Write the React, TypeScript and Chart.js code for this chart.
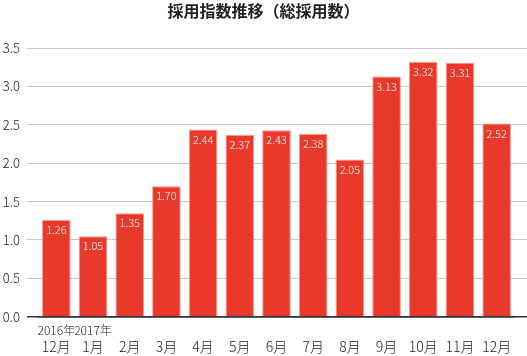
import React, { useEffect, useRef } from "react";
import { Chart, registerables } from "chart.js";

Chart.register(...registerables);

const TITLE = "採用指数推移（総採用数）";
const YEAR_LABELS = ["2016年", "2017年", "", "", "", "", "", "", "", "", "", "", ""];
const MONTH_LABELS = ["12月", "1月", "2月", "3月", "4月", "5月", "6月", "7月", "8月", "9月", "10月", "11月", "12月"];
const VALUES = [1.26, 1.05, 1.35, 1.7, 2.44, 2.37, 2.43, 2.38, 2.05, 3.13, 3.32, 3.31, 2.52];
const Y_MIN = 0;
const Y_MAX = 3.5;
const Y_STEP = 0.5;

const FONT = '"Noto Sans CJK JP", "Noto Sans", sans-serif';
const BAR_COLOR = "#e8392b";
const BAR_EDGE = "#f49a8f";
const GRID = "#c8c8c8";
const AXIS = "#333333";
const TEXT = "#222222";

const valueLabels = {
  id: "valueLabels",
  afterDatasetsDraw(chart: any) {
    const ctx = chart.ctx;
    const meta = chart.getDatasetMeta(0);
    ctx.save();
    ctx.fillStyle = "#ffffff";
    ctx.font = `300 11px ${FONT}`;
    ctx.textAlign = "center";
    ctx.textBaseline = "middle";
    meta.data.forEach((el: any, i: number) => {
      const v = chart.data.datasets[0].data[i] as number;
      ctx.fillText(v.toFixed(2), el.x, el.y + 10);
    });
    ctx.restore();
  },
};

export default function App() {
  const ref = useRef<HTMLCanvasElement | null>(null);
  useEffect(() => {
    if (!ref.current) return;
    const lineColor = (c: any) => (c.tick && c.tick.value === 0 ? AXIS : GRID);
    const lineWidth = (c: any) => (c.tick && c.tick.value === 0 ? 1.5 : 1);
    const chart = new Chart(ref.current, {
      type: "bar",
      data: {
        labels: MONTH_LABELS,
        datasets: [
          {
            data: VALUES,
            backgroundColor: BAR_COLOR,
            borderColor: BAR_EDGE,
            borderWidth: 1,
            categoryPercentage: 1,
            barPercentage: 0.78,
            xAxisID: "x",
            yAxisID: "y",
          },
        ],
      },
      options: {
        responsive: false,
        animation: false,
        layout: { padding: 0 },
        plugins: {
          legend: { display: false },
          tooltip: { enabled: false },
          title: {
            display: true,
            text: TITLE,
            color: TEXT,
            font: { family: FONT, size: 16, weight: "bold", lineHeight: 1.2 },
            padding: { top: 1, bottom: 28 },
          },
        },
        scales: {
          xYear: {
            type: "category",
            position: "bottom",
            labels: YEAR_LABELS,
            weight: 0,
            grid: { display: false, drawTicks: false },
            border: { display: true, color: AXIS, width: 1.5 },
            ticks: {
              autoSkip: false,
              maxRotation: 0,
              color: TEXT,
              padding: 7,
              font: { family: FONT, size: 12, weight: "300", lineHeight: 1.2 },
            },
            afterFit: (s: any) => {
              s.height = 21;
            },
          },
          x: {
            type: "category",
            position: "bottom",
            weight: 1,
            grid: { display: false, drawTicks: false },
            border: { display: false },
            ticks: {
              autoSkip: false,
              maxRotation: 0,
              color: TEXT,
              padding: 1,
              font: { family: FONT, size: 14, weight: "300", lineHeight: 1.2 },
            },
            afterFit: (s: any) => {
              s.height = 18.3;
            },
          },
          y: {
            position: "left",
            min: Y_MIN,
            max: Y_MAX,
            border: { display: false },
            grid: {
              color: lineColor,
              tickColor: lineColor,
              lineWidth: lineWidth,
              drawTicks: true,
              tickLength: 11,
            },
            ticks: {
              stepSize: Y_STEP,
              color: TEXT,
              padding: 7,
              font: { family: FONT, size: 13, weight: "300" },
              callback: (v: any) => Number(v).toFixed(1),
            },
            afterFit: (s: any) => {
              s.width = 38;
            },
          },
          yRight: {
            position: "right",
            min: Y_MIN,
            max: Y_MAX,
            border: { display: false },
            grid: {
              drawOnChartArea: false,
              color: lineColor,
              tickColor: lineColor,
              lineWidth: lineWidth,
              drawTicks: true,
              tickLength: 12,
            },
            ticks: { display: false, stepSize: Y_STEP },
            afterFit: (s: any) => {
              s.width = 12;
            },
          },
        },
      },
      plugins: [valueLabels],
    });
    return () => chart.destroy();
  }, []);
  return (
    <div style={{ position: "absolute", left: 0, top: 0, width: 527, height: 356, background: "#fff" }}>
      <canvas ref={ref} width={527} height={356} style={{ display: "block" }} />
    </div>
  );
}
